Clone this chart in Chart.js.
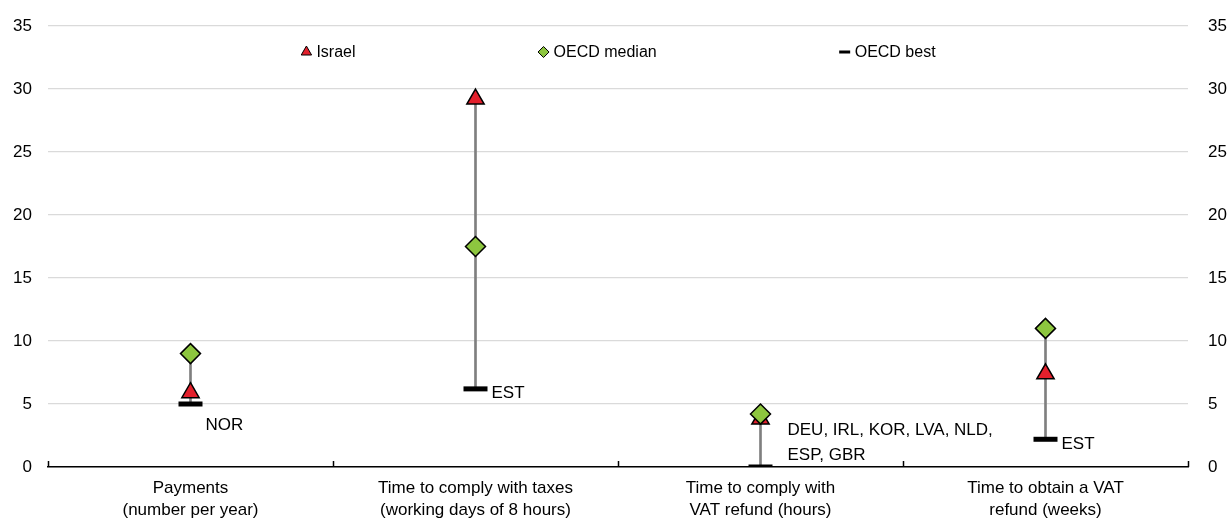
<!DOCTYPE html>
<html>
<head>
<meta charset="utf-8">
<script src="https://cdn.jsdelivr.net/npm/chart.js@4.4.1/dist/chart.umd.min.js"></script>
<style>
  html, body { margin: 0; padding: 0; background: #fff; }
  #wrap { width: 1228px; height: 524px; }
</style>
</head>
<body>
<div id="wrap"><canvas id="chart"></canvas></div>
<script>
const categories = [
  ["Payments", "(number per year)"],
  ["Time to comply with taxes", "(working days of 8 hours)"],
  ["Time to comply with", "VAT refund (hours)"],
  ["Time to obtain a VAT", "refund (weeks)"],
];
const israel = [5.9, 29.2, 3.8, 7.4];
const oecdMedian = [9, 17.5, 4.2, 11];
const oecdBest = [5, 6.2, 0, 2.2];
const bestLabels = [["NOR"], ["EST"], ["DEU, IRL, KOR, LVA, NLD,", "ESP, GBR"], ["EST"]];
const seriesNames = ["Israel", "OECD median", "OECD best"];
const yMin = 0;
const yMax = 35;
const yStep = 5;

// label placement relative to the OECD best mark [dx, dy]
const labelOffsets = [[15, 21], [16, 4], [27, -37], [16, 5]];

const FONT = "'Liberation Sans Narrow', 'Arial Narrow', 'Liberation Sans', Arial, sans-serif";
Chart.defaults.font.family = FONT;
Chart.defaults.font.size = 17;
Chart.defaults.color = "#000";

// vertical range line for each category
const ranges = categories.map((_, i) => {
  const vals = [israel[i], oecdMedian[i], oecdBest[i]];
  return [Math.min(...vals), Math.max(...vals)];
});

const colors = {
  israel: "#e2202c",
  median: "#8dc63f",
  best: "#000000",
  range: "#7f7f7f",
};

// small upward ticks between categories
const categoryTicks = {
  id: "categoryTicks",
  afterDraw(chart) {
    const x = chart.scales.x;
    const ctx = chart.ctx;
    const half = (x.getPixelForValue(1) - x.getPixelForValue(0)) / 2;
    const bottom = chart.chartArea.bottom;
    ctx.save();
    ctx.strokeStyle = "#000";
    ctx.lineWidth = 1.5;
    for (let i = 0; i <= categories.length; i++) {
      const px = Math.round(x.getPixelForValue(0) - half + i * half * 2) + 0.5;
      ctx.beginPath();
      ctx.moveTo(px, bottom);
      ctx.lineTo(px, bottom - 6);
      ctx.stroke();
    }
    ctx.restore();
  },
};

// country labels next to the OECD best marks
const bestText = {
  id: "bestText",
  afterDatasetsDraw(chart) {
    const x = chart.scales.x;
    const y = chart.scales.y;
    const ctx = chart.ctx;
    ctx.save();
    ctx.font = "17px " + FONT;
    ctx.fillStyle = "#000";
    ctx.textAlign = "left";
    ctx.textBaseline = "middle";
    bestLabels.forEach((lines, i) => {
      const px = x.getPixelForValue(i) + labelOffsets[i][0];
      const py = y.getPixelForValue(oecdBest[i]) + labelOffsets[i][1];
      lines.forEach((t, k) => ctx.fillText(t, px, py + k * 25));
    });
    ctx.restore();
  },
};

// legend inside the plot area
const innerLegend = {
  id: "innerLegend",
  afterDraw(chart) {
    const ctx = chart.ctx;
    const area = chart.chartArea;
    const ly = area.top + 26;
    const gap = 182;
    const markW = 12;
    ctx.save();
    ctx.font = "16px " + FONT;
    ctx.textBaseline = "middle";
    ctx.textAlign = "left";
    const widths = seriesNames.map((n) => markW + 4 + ctx.measureText(n).width);
    const total = widths.reduce((a, b) => a + b, 0) + gap * (widths.length - 1);
    let cx = (area.left + area.right) / 2 - total / 2;
    const styles = [
      { pointStyle: "triangle", radius: 6, borderWidth: 1, fill: colors.israel },
      { pointStyle: "rectRot", radius: 5.5, borderWidth: 1, fill: colors.median },
      { pointStyle: "line", radius: 5.5, borderWidth: 3, fill: colors.best },
    ];
    seriesNames.forEach((name, i) => {
      const s = styles[i];
      ctx.fillStyle = s.fill;
      ctx.strokeStyle = "#000";
      ctx.lineWidth = s.borderWidth;
      Chart.helpers.drawPoint(ctx, { pointStyle: s.pointStyle, radius: s.radius, borderWidth: s.borderWidth, rotation: 0 }, cx + markW / 2, ly);
      ctx.fillStyle = "#000";
      ctx.fillText(name, cx + markW + 4, ly + 1);
      cx += widths[i] + gap;
    });
    ctx.restore();
  },
};

function fixY(width) {
  return (s) => {
    s.width = width;
    s.paddingTop = 0;
    s.paddingBottom = 0;
  };
}

new Chart(document.getElementById("chart"), {
  data: {
    labels: categories,
    datasets: [
      {
        type: "line",
        label: seriesNames[0],
        data: israel,
        showLine: false,
        pointStyle: "triangle",
        pointRadius: 10,
        pointHoverRadius: 10,
        backgroundColor: colors.israel,
        borderColor: "#000",
        pointBorderWidth: 1.5,
        order: 3,
      },
      {
        type: "line",
        label: seriesNames[1],
        data: oecdMedian,
        showLine: false,
        pointStyle: "rectRot",
        pointRadius: 10,
        pointHoverRadius: 10,
        backgroundColor: colors.median,
        borderColor: "#000",
        pointBorderWidth: 1.5,
        order: 2,
      },
      {
        type: "line",
        label: seriesNames[2],
        data: oecdBest,
        showLine: false,
        pointStyle: "line",
        pointRadius: 12,
        pointHoverRadius: 12,
        borderColor: colors.best,
        pointBorderWidth: 5,
        order: 1,
      },
      {
        type: "bar",
        label: "range",
        data: ranges,
        backgroundColor: colors.range,
        barThickness: 2,
        order: 4,
      },
    ],
  },
  options: {
    responsive: true,
    maintainAspectRatio: false,
    animation: false,
    layout: { padding: { top: 26, left: 0, right: 0, bottom: 0 } },
    plugins: {
      legend: { display: false },
      tooltip: { enabled: false },
    },
    scales: {
      x: {
        type: "category",
        offset: true,
        grid: { display: false, drawTicks: false },
        border: { color: "#000", width: 1.5 },
        ticks: { padding: 10, maxRotation: 0, autoSkip: false, font: { size: 17, lineHeight: 1.3 } },
        afterFit: (s) => { s.height = 57; },
      },
      y: {
        position: "left",
        min: yMin,
        max: yMax,
        ticks: { stepSize: yStep, padding: 16 },
        grid: { color: "#dadada", lineWidth: 1.2, drawTicks: false },
        border: { display: false },
        afterFit: fixY(48),
      },
      y2: {
        position: "right",
        min: yMin,
        max: yMax,
        ticks: { stepSize: yStep, padding: 20 },
        grid: { display: false, drawTicks: false },
        border: { display: false },
        afterFit: fixY(40),
      },
    },
  },
  plugins: [categoryTicks, bestText, innerLegend],
});
</script>
</body>
</html>
